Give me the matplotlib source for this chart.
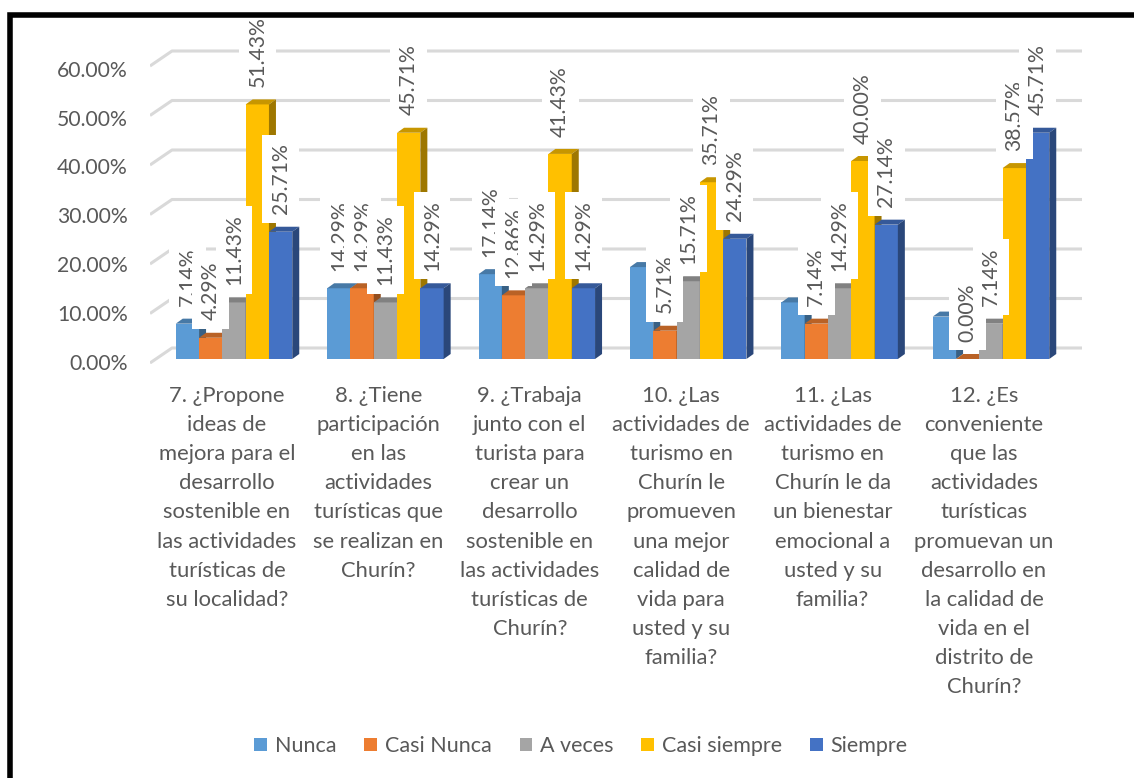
import matplotlib
matplotlib.use("Agg")
import matplotlib.pyplot as plt
from matplotlib.patches import Polygon, Rectangle, Patch
from matplotlib.colors import to_rgb
import numpy as np

# Datos del gráfico
categorias = [
    "7. ¿Propone\nideas de\nmejora para el\ndesarrollo\nsostenible en\nlas actividades\nturísticas de\nsu localidad?",
    "8. ¿Tiene\nparticipación\nen las\nactividades\nturísticas que\nse realizan en\nChurín?",
    "9. ¿Trabaja\njunto con el\nturista para\ncrear un\ndesarrollo\nsostenible en\nlas actividades\nturísticas de\nChurín?",
    "10. ¿Las\nactividades de\nturismo en\nChurín le\npromueven\nuna mejor\ncalidad de\nvida para\nusted y su\nfamilia?",
    "11. ¿Las\nactividades de\nturismo en\nChurín le da\nun bienestar\nemocional a\nusted y su\nfamilia?",
    "12. ¿Es\nconveniente\nque las\nactividades\nturísticas\npromuevan un\ndesarrollo en\nla calidad de\nvida en el\ndistrito de\nChurín?",
]
series = ["Nunca", "Casi Nunca", "A veces", "Casi siempre", "Siempre"]
nunca = [7.14, 14.29, 17.14, 18.57, 11.43, 8.57]
casi_nunca = [4.29, 14.29, 12.86, 5.71, 7.14, 0.00]
a_veces = [11.43, 11.43, 14.29, 15.71, 14.29, 7.14]
casi_siempre = [51.43, 45.71, 41.43, 35.71, 40.00, 38.57]
siempre = [25.71, 14.29, 14.29, 24.29, 27.14, 45.71]
ticks = [0, 10, 20, 30, 40, 50, 60]

# En el original no se ven las etiquetas de "Nunca" de las tres últimas preguntas
etiqueta_nunca = [True, True, True, False, False, False]

valores = [nunca, casi_nunca, a_veces, casi_siempre, siempre]
mostrar = [etiqueta_nunca] + [[True] * len(categorias)] * 4
colores = ["#5B9BD5", "#ED7D31", "#A5A5A5", "#FFC000", "#4472C4"]
gris = "#595959"

plt.rcParams["font.family"] = ["Lato", "DejaVu Sans"]

W, H = 1134, 778
fig = plt.figure(figsize=(W / 100, H / 100), dpi=100)

# Ejes colocados en píxeles
left, right, top, bottom = 150, 1082, 40, 364
ax = fig.add_axes([left / W, 1 - bottom / H, (right - left) / W, (bottom - top) / H])
px_x, x0 = 151.4, 234
px_y, y0 = 4.95, 359
ax.set_xlim((left - x0) / px_x, (right - x0) / px_x)
ax.set_ylim((y0 - bottom) / px_y, (y0 - top) / px_y)
for s in ax.spines.values():
    s.set_visible(False)
ax.set_xticks([])

# Rejilla con efecto 3D (pared del fondo)
back_dy = 11 / px_y
x_back = (172 - x0) / px_x
x_front = (left - x0) / px_x
x_end = (right - x0) / px_x
for t in ticks:
    yb = t + back_dy
    ax.plot([x_front, x_back, x_end], [yb - 15 / px_y, yb, yb],
            color="#D9D9D9", lw=2.2, solid_capstyle="butt", zorder=1)

# Etiquetas del eje Y
ax.set_yticks([(y0 - 362 + 4.89 * t) / px_y for t in ticks])
ax.set_yticklabels([f"{t:.2f}%" for t in ticks], fontsize=15.2, color=gris)
ax.tick_params(axis="y", length=0, pad=16)

# Barras 3D
ancho = 23.3 / px_x
ddx = 7 / px_x
ddy = 5 / px_y
x = np.arange(len(categorias))


def oscurecer(c, f):
    r, g, b = to_rgb(c)
    return (r * f, g * f, b * f)


for k, (vals, col) in enumerate(zip(valores, colores)):
    xs = x + (k - 2) * ancho
    ax.bar(xs, vals, width=ancho, color=col, zorder=3, linewidth=0)
    for xi, v in zip(xs, vals):
        xl, xr = xi - ancho / 2, xi + ancho / 2
        ax.add_patch(Polygon([(xl, v), (xr, v), (xr + ddx, v + ddy), (xl + ddx, v + ddy)],
                             closed=True, facecolor=oscurecer(col, 0.78), lw=0, zorder=3))
        ax.add_patch(Polygon([(xr, 0), (xr, v), (xr + ddx, v + ddy), (xr + ddx, ddy)],
                             closed=True, facecolor=oscurecer(col, 0.62), lw=0, zorder=3))

# Etiquetas de datos
for k, (vals, vis) in enumerate(zip(valores, mostrar)):
    xs = x + (k - 2) * ancho
    for xi, v, m in zip(xs, vals, vis):
        if not m:
            continue
        ax.text(xi, v + 3.5, f"{v:.2f}%", rotation=90, ha="center", va="bottom",
                fontsize=15.2, color=gris, zorder=10 + k, clip_on=False,
                bbox=dict(boxstyle="square,pad=0.4", fc="white", ec="none"))

# Etiquetas de categorías
for i, c in enumerate(categorias):
    ax.text(i - 7 / px_x, (y0 - 386) / px_y, c, ha="center", va="top",
            fontsize=15.8, color=gris, linespacing=1.57, clip_on=False)

# Leyenda
handles = [Patch(facecolor=c, edgecolor="none") for c in colores]
fig.legend(handles, series, loc="center", bbox_to_anchor=(581 / W, 1 - 746 / H),
           ncol=5, frameon=False, fontsize=15.5, handlelength=0.6, handleheight=0.6,
           handletextpad=0.35, columnspacing=1.3, labelcolor=gris)

# Marco negro (arriba e izquierda)
fig.add_artist(Rectangle((9.8 / W, -0.1), 1.2, 1.1 - 15.3 / H, transform=fig.transFigure,
                         fill=False, edgecolor="black", lw=4, clip_on=False))

fig.savefig("out.png", dpi=100)
